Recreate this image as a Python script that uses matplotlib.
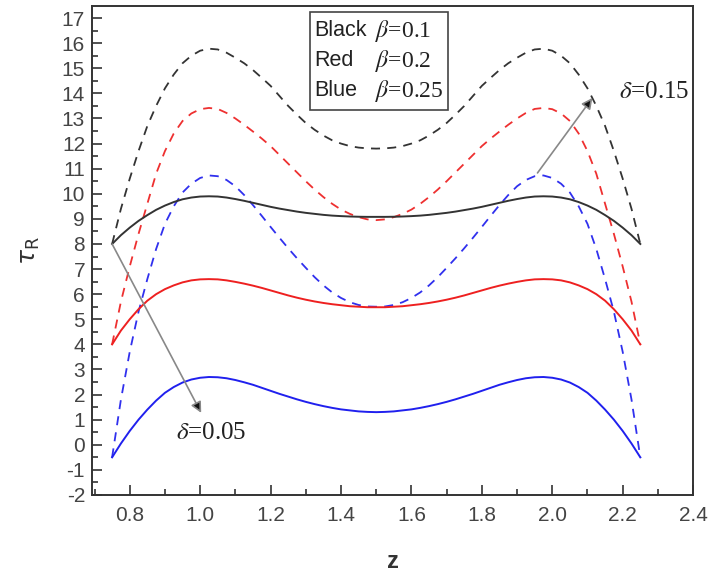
import matplotlib
matplotlib.use("Agg")
import matplotlib.pyplot as plt
from matplotlib.ticker import MultipleLocator
from matplotlib.patches import Rectangle

plt.rcParams['axes.unicode_minus'] = False
plt.rcParams['font.family'] = ['Liberation Sans', 'DejaVu Sans']

# axial position, 0.75 .. 2.25 step 0.025
z = [0.75, 0.775, 0.8, 0.825, 0.85, 0.875, 0.9, 0.925, 0.95, 0.975,
     1.0, 1.025, 1.05, 1.075, 1.1, 1.125, 1.15, 1.175, 1.2, 1.225,
     1.25, 1.275, 1.3, 1.325, 1.35, 1.375, 1.4, 1.425, 1.45, 1.475,
     1.5, 1.525, 1.55, 1.575, 1.6, 1.625, 1.65, 1.675, 1.7, 1.725,
     1.75, 1.775, 1.8, 1.825, 1.85, 1.875, 1.9, 1.925, 1.95, 1.975,
     2.0, 2.025, 2.05, 2.075, 2.1, 2.125, 2.15, 2.175, 2.2, 2.225, 2.25]

# delta = 0.05 (solid lines)
black_solid = [8.0, 8.35, 8.65, 8.92, 9.15, 9.36, 9.53, 9.67, 9.78, 9.85,
               9.89, 9.9, 9.89, 9.85, 9.79, 9.72, 9.64, 9.56, 9.48, 9.41,
               9.35, 9.29, 9.24, 9.2, 9.16, 9.13, 9.11, 9.095, 9.085, 9.08,
               9.08, 9.08, 9.085, 9.095, 9.11, 9.13, 9.16, 9.2, 9.24, 9.29,
               9.35, 9.41, 9.48, 9.56, 9.64, 9.72, 9.79, 9.85, 9.89, 9.9,
               9.89, 9.85, 9.78, 9.67, 9.53, 9.36, 9.15, 8.92, 8.65, 8.35, 8.0]
red_solid = [4.0, 4.55, 5.0, 5.4, 5.74, 6.0, 6.2, 6.35, 6.47, 6.55,
             6.59, 6.6, 6.59, 6.55, 6.49, 6.42, 6.34, 6.25, 6.15, 6.05,
             5.95, 5.86, 5.78, 5.71, 5.65, 5.6, 5.56, 5.52, 5.5, 5.48,
             5.48, 5.48, 5.5, 5.52, 5.56, 5.6, 5.65, 5.71, 5.78, 5.86,
             5.95, 6.05, 6.15, 6.25, 6.34, 6.42, 6.49, 6.55, 6.59, 6.6,
             6.59, 6.55, 6.47, 6.35, 6.2, 6.0, 5.74, 5.4, 5.0, 4.55, 4.0]
blue_solid = [-0.5, 0.05, 0.55, 1.0, 1.4, 1.76, 2.07, 2.3, 2.48, 2.6,
              2.67, 2.7, 2.69, 2.65, 2.58, 2.49, 2.39, 2.27, 2.15, 2.03,
              1.92, 1.81, 1.71, 1.62, 1.54, 1.47, 1.41, 1.37, 1.33, 1.31,
              1.3, 1.31, 1.33, 1.37, 1.41, 1.47, 1.54, 1.62, 1.71, 1.81,
              1.92, 2.03, 2.15, 2.27, 2.39, 2.49, 2.58, 2.65, 2.69, 2.7,
              2.67, 2.6, 2.48, 2.3, 2.07, 1.76, 1.4, 1.0, 0.55, 0.05, -0.5]

# delta = 0.15 (dashed lines)
black_dash = [8.0, 9.4, 10.6, 11.7, 12.7, 13.5, 14.2, 14.75, 15.2, 15.5,
              15.7, 15.78, 15.75, 15.62, 15.42, 15.2, 14.93, 14.62, 14.3, 13.9,
              13.5, 13.15, 12.82, 12.55, 12.32, 12.13, 12.0, 11.9, 11.84, 11.81,
              11.8, 11.81, 11.84, 11.9, 12.0, 12.13, 12.32, 12.55, 12.82, 13.15,
              13.5, 13.9, 14.3, 14.62, 14.93, 15.2, 15.42, 15.62, 15.75, 15.78,
              15.7, 15.5, 15.2, 14.75, 14.2, 13.5, 12.7, 11.7, 10.6, 9.4, 8.0]
red_dash = [4.0, 5.7, 7.1, 8.4, 9.6, 10.8, 11.7, 12.4, 12.9, 13.2,
            13.37, 13.42, 13.38, 13.22, 13.0, 12.75, 12.48, 12.2, 11.9, 11.55,
            11.2, 10.85, 10.5, 10.17, 9.87, 9.6, 9.37, 9.2, 9.07, 8.98,
            8.95, 8.98, 9.07, 9.2, 9.37, 9.6, 9.87, 10.17, 10.5, 10.85,
            11.2, 11.55, 11.9, 12.2, 12.48, 12.75, 13.0, 13.22, 13.38, 13.42,
            13.37, 13.2, 12.9, 12.4, 11.7, 10.8, 9.6, 8.4, 7.1, 5.7, 4.0]
blue_dash = [-0.5, 1.8, 3.7, 5.3, 6.6, 7.8, 8.8, 9.5, 10.05, 10.4,
             10.63, 10.73, 10.7, 10.55, 10.3, 9.95, 9.55, 9.12, 8.68, 8.25,
             7.83, 7.43, 7.05, 6.68, 6.35, 6.07, 5.85, 5.68, 5.57, 5.51,
             5.5, 5.51, 5.57, 5.68, 5.85, 6.07, 6.35, 6.68, 7.05, 7.43,
             7.83, 8.25, 8.68, 9.12, 9.55, 9.95, 10.3, 10.55, 10.7, 10.73,
             10.63, 10.4, 10.05, 9.5, 8.8, 7.8, 6.6, 5.3, 3.7, 1.8, -0.5]

xticks = [0.8, 1.0, 1.2, 1.4, 1.6, 1.8, 2.0, 2.2, 2.4]
xticklabels = ['0.8', '1.0', '1.2', '1.4', '1.6', '1.8', '2.0', '2.2', '2.4']

fig = plt.figure(figsize=(7.08, 5.8), dpi=100)
ax = fig.add_axes([0.130, 0.1466, 0.849, 0.843])

dash = (0, (5, 4))
ax.plot(z, black_dash, color='#333333', lw=1.3, linestyle=dash)
ax.plot(z, red_dash, color='#ee3030', lw=1.3, linestyle=dash)
ax.plot(z, blue_dash, color='#3030ee', lw=1.3, linestyle=dash)
ax.plot(z, black_solid, color='#333333', lw=1.4)
ax.plot(z, red_solid, color='#ee2020', lw=1.4)
ax.plot(z, blue_solid, color='#2020ee', lw=1.4)

ax.set_xlim(0.693, 2.4)
ax.set_ylim(-2, 17.48)
ax.set_xticks(xticks)
ax.set_xticklabels(xticklabels)
ax.xaxis.set_minor_locator(MultipleLocator(0.1))
ax.set_yticks(range(-2, 18))
ax.yaxis.set_minor_locator(MultipleLocator(0.5))
ax.tick_params(which='both', direction='in', labelsize=15, colors='#333333',
               labelcolor='#444444', width=1.2)
ax.tick_params(which='major', length=7)
ax.tick_params(which='minor', length=4)
ax.tick_params(axis='y', pad=5)
ax.tick_params(axis='x', pad=8)
for s in ax.spines.values():
    s.set_linewidth(1.4)
    s.set_color('#333333')

ax.set_xlabel('z', fontsize=17, fontweight='bold', color='#333333', labelpad=18)
ax.set_ylabel(r'$\tau_\mathrm{R}$', fontsize=18, color='#333333', labelpad=14)

# parameter box
ax.add_patch(Rectangle((0.363, 0.787), 0.229, 0.201, transform=ax.transAxes,
                       fill=False, ec='#444444', lw=1.2))
names = ['Black', 'Red', 'Blue']
betas = [r'$\beta$=0.1', r'$\beta$=0.2', r'$\beta$=0.25']
for i, (name, val) in enumerate(zip(names, betas)):
    yy = 0.949 - i * 0.061
    ax.text(0.370, yy, name, transform=ax.transAxes, fontsize=15.5, va='center',
            color='#222222')
    ax.text(0.470, yy, val, transform=ax.transAxes, fontsize=17, va='center',
            family='Liberation Serif', color='#222222', math_fontfamily='stix')

arrow = dict(arrowstyle='-|>', fc='#111111', ec='#888888', lw=1.2,
             mutation_scale=16, shrinkA=0, shrinkB=0)
ax.annotate('', xy=(1.003, 1.27), xytext=(0.75, 8.0), arrowprops=arrow)
ax.annotate('', xy=(2.114, 13.82), xytext=(1.958, 10.83), arrowprops=arrow)
ax.text(1.03, 0.47, r'$\delta$=0.05', fontsize=18, ha='center', va='center',
        family='Liberation Serif', color='#222222', math_fontfamily='stix')
ax.text(2.289, 14.05, r'$\delta$=0.15', fontsize=18, ha='center', va='center',
        family='Liberation Serif', color='#222222', math_fontfamily='stix')

fig.savefig('out.png', dpi=100)
